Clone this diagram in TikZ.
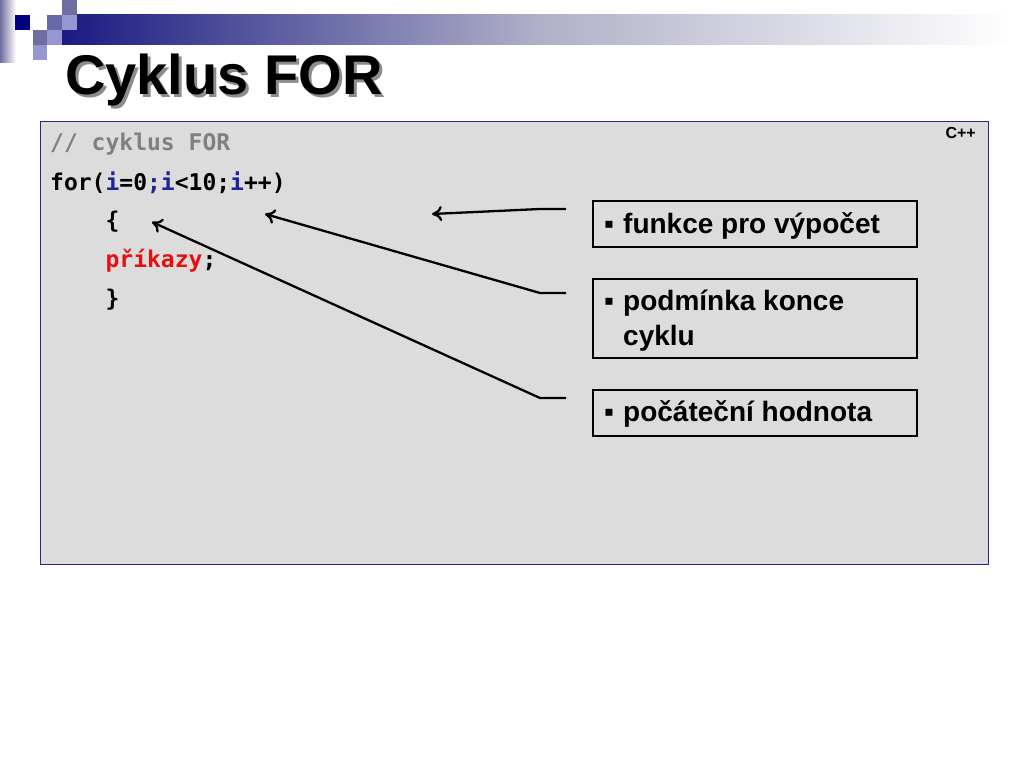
\documentclass[tikz,border=0pt]{standalone}
\usepackage{fontspec}
\setmainfont{Liberation Sans}
\newfontfamily\codefont{DejaVu Sans Mono}
\usetikzlibrary{arrows.meta}
\definecolor{navy}{RGB}{26,26,130}
\definecolor{bandmid}{RGB}{175,175,200}
\definecolor{codebg}{RGB}{220,220,220}
\definecolor{codeframe}{RGB}{40,40,140}
\definecolor{cmt}{RGB}{128,128,128}
\definecolor{var}{RGB}{28,36,150}
\definecolor{kw}{RGB}{230,16,16}
\definecolor{sqA}{RGB}{0,0,128}
\definecolor{sqB}{RGB}{110,110,160}
\definecolor{sqC}{RGB}{150,150,210}
\definecolor{sqD}{RGB}{105,105,170}
\newcommand{\bul}{\makebox[19pt][l]{▪}}
\tikzset{
  codeline/.style={anchor=base west, inner sep=0pt, font=\codefont\bfseries\fontsize{23}{23}\selectfont},
  labelbox/.style={draw=black, line width=2pt, fill=codebg, anchor=north west, minimum width=324pt, inner sep=0pt},
  labeltext/.style={anchor=base west, inner sep=0pt, font=\bfseries\fontsize{28}{28}\selectfont},
  pointer/.style={line width=2.3pt, -{To[length=10pt,width=15pt]}},
}
\begin{document}
\begin{tikzpicture}[x=1pt,y=-1pt]
\useasboundingbox (0,0) rectangle (1024,768);
\fill[white] (0,0) rectangle (1024,768);
% header band
\shade[left color=navy, right color=bandmid] (62,15) rectangle (536,45);
\shade[left color=bandmid, right color=white] (535,15) rectangle (1012,45);
\shade[left color=sqB, right color=white] (0,0) rectangle (16,62);
\fill[sqA] (15,15) rectangle (30,30);
\fill[sqB] (62,0) rectangle (77,15);
\fill[sqD] (47,15) rectangle (62,30);
\fill[sqC] (62,15) rectangle (77,30);
\fill[sqB] (33,30) rectangle (47,45);
\fill[sqC] (47,30) rectangle (62,45);
\fill[sqC] (33,45) rectangle (47,60);
% title with shadow
\node[anchor=base west, inner sep=0pt, font=\bfseries\fontsize{56}{56}\selectfont] (title) at (65,94) {\rlap{\hspace{3pt}\raisebox{-3pt}{\textcolor{black!45}{Cyklus FOR}}}Cyklus FOR};
% code box
\node[draw=codeframe, line width=1.2pt, fill=codebg, anchor=north west, minimum width=948pt, minimum height=443pt, inner sep=0pt] (code) at (40,121) {};
\node[anchor=north east, inner sep=0pt, font=\bfseries\fontsize{16}{16}\selectfont] (lang) at (976,127) {C++};
\node[codeline, text=cmt] (l1) at (50,150) {// cyklus FOR};
\node[codeline] (l2) at (50,190) {for(\textcolor{var}{i}=0\textcolor{var}{;}\textcolor{var}{i}<10;\textcolor{var}{i}++)};
\node[codeline] (l3) at (50,228) {\phantom{for(}\{};
\node[codeline] (l4) at (50,267) {\phantom{for(}\textcolor{kw}{příkazy};};
\node[codeline] (l5) at (50,306) {\phantom{for(}\}};
% label boxes
\node[labelbox, minimum height=46pt] (b1) at (592,200) {};
\node[labelbox, minimum height=79pt] (b2) at (592,278) {};
\node[labelbox, minimum height=46pt] (b3) at (592,389) {};
\node[labeltext] (t1) at (604,233) {\bul funkce pro výpočet};
\node[labeltext] (t2a) at (604,310) {\bul podmínka konce};
\node[labeltext] (t2b) at (623,345) {cyklu};
\node[labeltext] (t3) at (604,421) {\bul počáteční hodnota};
% connector anchors
\coordinate (s1) at (566,209);
\coordinate (k1) at (540,209);
\coordinate (e1) at (432,214);
\coordinate (s2) at (566,293);
\coordinate (k2) at (540,293);
\coordinate (e2) at (265,214);
\coordinate (s3) at (566,398);
\coordinate (k3) at (540,398);
\coordinate (e3) at (152,222);
\draw[pointer] (s1) -- (k1) -- (e1);
\draw[pointer] (s2) -- (k2) -- (e2);
\draw[pointer] (s3) -- (k3) -- (e3);
\end{tikzpicture}
\end{document}
